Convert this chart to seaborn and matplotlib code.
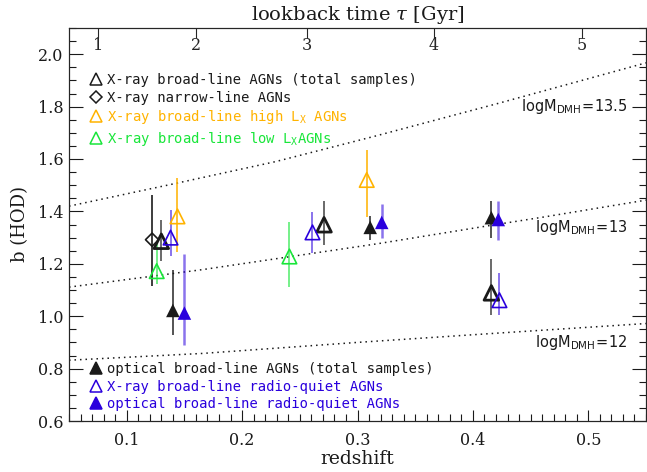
import numpy as np
import matplotlib
matplotlib.use("Agg")
import matplotlib.pyplot as plt
from matplotlib.lines import Line2D
from matplotlib.markers import MarkerStyle
from matplotlib.ticker import MultipleLocator
import seaborn as sns

# --- data ---
# X-ray broad-line AGNs (total samples)
xbl_z = [0.130, 0.271, 0.416]
xbl_b = [1.286, 1.349, 1.089]
xbl_lo = [1.210, 1.272, 1.003]
xbl_hi = [1.369, 1.441, 1.220]
# X-ray narrow-line AGNs
xnl_z = [0.122]
xnl_b = [1.292]
xnl_lo = [1.114]
xnl_hi = [1.461]
# X-ray broad-line high Lx
xhi_z = [0.144, 0.308]
xhi_b = [1.381, 1.520]
xhi_lo = [1.245, 1.378]
xhi_hi = [1.526, 1.633]
# X-ray broad-line low Lx
xlo_z = [0.126, 0.241]
xlo_b = [1.172, 1.228]
xlo_lo = [1.124, 1.110]
xlo_hi = [1.283, 1.360]
# optical broad-line AGNs (total samples)
obl_z = [0.140, 0.311, 0.416]
obl_b = [1.022, 1.339, 1.376]
obl_lo = [0.927, 1.290, 1.300]
obl_hi = [1.178, 1.384, 1.440]
# X-ray broad-line radio-quiet
xrq_z = [0.138, 0.261, 0.423]
xrq_b = [1.300, 1.320, 1.061]
xrq_lo = [1.229, 1.243, 1.003]
xrq_hi = [1.404, 1.397, 1.163]
# optical broad-line radio-quiet
orq_z = [0.150, 0.321, 0.422]
orq_b = [1.012, 1.358, 1.369]
orq_lo = [0.889, 1.300, 1.290]
orq_hi = [1.236, 1.430, 1.440]

# halo-mass bias tracks
m135_z = [0.05, 0.1405, 0.229, 0.315, 0.42, 0.55]
m135_b = [1.42, 1.505, 1.59, 1.687, 1.81, 1.967]
m13_z = [0.05, 0.166, 0.318, 0.416, 0.462, 0.55]
m13_b = [1.111, 1.178, 1.277, 1.347, 1.379, 1.443]
m12_z = [0.05, 0.166, 0.30, 0.42, 0.55]
m12_b = [0.832, 0.858, 0.90, 0.935, 0.972]

tau_ticks = [1, 2, 3, 4, 5]

BLUE = "#2a00dd"
ORANGE = "#ffb300"
GREEN = "#19e63a"

sns.set_theme(style="ticks")
plt.rcParams["font.family"] = ["DejaVu Serif"]
plt.rcParams["mathtext.fontset"] = "dejavuserif"
plt.rcParams["text.color"] = "k"
plt.rcParams["axes.labelcolor"] = "k"

fig = plt.figure(figsize=(6.47, 4.72), dpi=100)
ax = fig.add_axes([69 / 647, 51 / 472, 577 / 647, 393 / 472])

# dotted model curves
dot = (0, (1, 2.6))
for zz, bb in [(m135_z, m135_b), (m13_z, m13_b), (m12_z, m12_b)]:
    sns.lineplot(x=zz, y=bb, color="k", lw=1.1, linestyle=dot, ax=ax)

# error bars
def bars(z, lo, hi, c, a, lw=1.4):
    ax.vlines(z, lo, hi, colors=c, alpha=a, lw=lw, zorder=2)

bars(xnl_z, xnl_lo, xnl_hi, "k", 0.85)
bars(xbl_z, xbl_lo, xbl_hi, "k", 0.65)
bars(xhi_z, xhi_lo, xhi_hi, ORANGE, 0.8)
bars(xlo_z, xlo_lo, xlo_hi, GREEN, 0.6)
bars(obl_z, obl_lo, obl_hi, "k", 0.75)
bars(xrq_z, xrq_lo, xrq_hi, BLUE, 0.55)
bars(orq_z, orq_lo, orq_hi, BLUE, 0.55, lw=1.8)

open_tri = MarkerStyle("^", fillstyle="none")
open_dia = MarkerStyle("D", fillstyle="none")

sns.scatterplot(x=xnl_z, y=xnl_b, marker=open_dia, color="k", s=45, linewidths=1.2, ax=ax, zorder=3)
sns.scatterplot(x=xbl_z, y=xbl_b, marker=open_tri, color="k", s=110, linewidths=2.0, ax=ax, zorder=3)
sns.scatterplot(x=xhi_z, y=xhi_b, marker=open_tri, color=ORANGE, s=110, linewidths=1.2, ax=ax, zorder=3)
sns.scatterplot(x=xlo_z, y=xlo_b, marker=open_tri, color=GREEN, s=110, linewidths=1.2, ax=ax, zorder=3)
sns.scatterplot(x=xrq_z, y=xrq_b, marker=open_tri, color=BLUE, s=110, linewidths=1.2, ax=ax, zorder=3)
sns.scatterplot(x=obl_z, y=obl_b, marker="^", color="k", s=95, edgecolor="none", ax=ax, zorder=3)
sns.scatterplot(x=orq_z, y=orq_b, marker="^", color=BLUE, s=95, edgecolor="none", ax=ax, zorder=3)

ax.set_xlim(0.05, 0.55)
ax.set_ylim(0.6, 2.1)
ax.xaxis.set_major_locator(MultipleLocator(0.1))
ax.xaxis.set_minor_locator(MultipleLocator(0.01))
ax.yaxis.set_major_locator(MultipleLocator(0.2))
ax.yaxis.set_minor_locator(MultipleLocator(0.05))
ax.tick_params(which="both", direction="in", top=False, right=True, width=0.8, colors="k")
ax.tick_params(which="major", length=10)
ax.tick_params(which="minor", length=5)
ax.tick_params(axis="x", which="major", length=8, pad=8, labelsize=11.5)
ax.tick_params(axis="y", pad=4, labelsize=11.5)
ax.set_xlabel("redshift", fontsize=13.5, labelpad=1)
ax.set_ylabel("b (HOD)", fontsize=13, labelpad=6)
for sp in ax.spines.values():
    sp.set_linewidth(0.8)
    sp.set_color("k")

# top axis: lookback time (flat LCDM, H0=70, Om=0.3)
zg = np.linspace(0, 1, 2001)
integ = 1.0 / ((1 + zg) * np.sqrt(0.3 * (1 + zg) ** 3 + 0.7))
tl = 977.8 / 70 * np.concatenate([[0], np.cumsum(0.5 * (integ[1:] + integ[:-1]) * np.diff(zg))])
ax2 = ax.twiny()
ax2.set_xlim(ax.get_xlim())
ax2.set_xticks(np.interp(tau_ticks, tl, zg))
ax2.set_xticklabels([str(t) for t in tau_ticks])
ax2.tick_params(axis="x", direction="in", length=7, width=0.8, pad=-19, labelsize=11.5)
ax2.set_xlabel(r"lookback time $\tau$ [Gyr]", fontsize=14, labelpad=6)
for sp in ax2.spines.values():
    sp.set_linewidth(0.8)

# curve labels
lab = dict(ha="right", va="center", fontsize=10.5, transform=ax.transData)
ax.text(0.534, 1.80, r"$\mathsf{logM_{DMH}\!=\!13.5}$", **lab)
ax.text(0.534, 1.34, r"$\mathsf{logM_{DMH}\!=\!13}$", **lab)
ax.text(0.534, 0.90, r"$\mathsf{logM_{DMH}\!=\!12}$", **lab)

# legends
def h(color, filled, marker="^"):
    return Line2D([], [], ls="none", marker=marker, ms=9 if marker == "^" else 6.5,
                  mfc=color if filled else "none", mec=color, mew=1.1)

prop = {"family": "DejaVu Sans Mono", "size": 10}
leg1 = ax.legend(
    [h("k", False), h("k", False, "D"), h(ORANGE, False), h(GREEN, False)],
    ["X-ray broad-line AGNs (total samples)", "X-ray narrow-line AGNs",
     r"X-ray broad-line high L$_\mathtt{X}$ AGNs", r"X-ray broad-line low L$_\mathtt{X}$AGNs"],
    labelcolor=["k", "k", ORANGE, GREEN], loc="upper left", bbox_to_anchor=(0.035, 0.885),
    frameon=False, handlelength=1.0, handletextpad=0.3, labelspacing=0.25, borderpad=0,
    borderaxespad=0, prop=prop)
ax.add_artist(leg1)
ax.legend(
    [h("k", True), h(BLUE, False), h(BLUE, True)],
    ["optical broad-line AGNs (total samples)", "X-ray broad-line radio-quiet AGNs",
     "optical broad-line radio-quiet AGNs"],
    labelcolor=["k", BLUE, BLUE], loc="lower left", bbox_to_anchor=(0.035, 0.025),
    frameon=False, handlelength=1.0, handletextpad=0.3, labelspacing=0.25, borderpad=0,
    borderaxespad=0, prop=prop)

fig.savefig("out.png", dpi=100)
